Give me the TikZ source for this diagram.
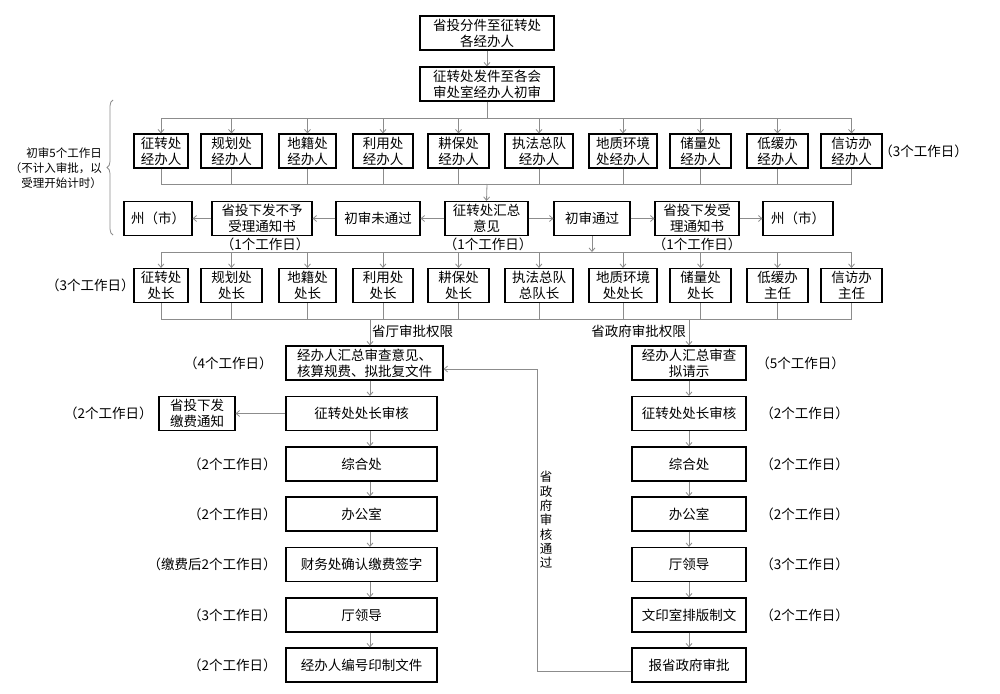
\documentclass[tikz,border=0pt]{standalone}
\usepackage{fontspec}
\setmainfont{Noto Sans CJK SC}
\newfontfamily\cjkh[RawFeature=+halt]{Noto Sans CJK SC}
\usetikzlibrary{arrows.meta,decorations.pathreplacing}
\begin{document}
\begin{tikzpicture}[x=1pt,y=-1pt,
  bx/.style={draw=black,line width=1.1pt,minimum height=34pt,inner sep=1pt,align=center,font=\fontsize{13.5}{16}\selectfont},
  lbl/.style={inner sep=0pt,font=\cjkh\fontsize{13.5}{16}\selectfont},
  ln/.style={draw=black!45,line width=0.8pt},
  arr/.style={ln,-{Straight Barb[length=3.5pt,width=6pt]}}]
\useasboundingbox[fill=white] (0,0) rectangle (1000,693);
% top
\node[bx,minimum width=134pt] (t1) at (487,33) {省投分件至征转处\\各经办人};
\node[bx,minimum width=134pt] (t2) at (487,84) {征转处发件至各会\\审处室经办人初审};
\draw[arr] (t1) -- (t2);
% row 1
\node[bx,minimum width=54pt] (a1) at (161,151) {征转处\\经办人};
\node[bx,minimum width=61pt] (a2) at (231.5,151) {规划处\\经办人};
\node[bx,minimum width=57pt] (a3) at (307.5,151) {地籍处\\经办人};
\node[bx,minimum width=60pt] (a4) at (383,151) {利用处\\经办人};
\node[bx,minimum width=61pt] (a5) at (458.5,151) {耕保处\\经办人};
\node[bx,minimum width=68pt] (a6) at (539,151) {执法总队\\经办人};
\node[bx,minimum width=68pt] (a7) at (623,151) {地质环境\\处经办人};
\node[bx,minimum width=61pt] (a8) at (700.5,151) {储量处\\经办人};
\node[bx,minimum width=61pt] (a9) at (777.5,151) {低缓办\\经办人};
\node[bx,minimum width=61pt] (a10) at (851.5,151) {信访办\\经办人};
\node[lbl,anchor=west] (l3a) at (886,151) {（3个工作日）};
\coordinate (b1) at (0,118);
\coordinate (b1b) at (0,184);
\draw[ln] (t2.south) -- (t2.south |- b1);
\draw[ln] (a1.north |- b1) -- (a10.north |- b1);
\draw[ln] (a1.south |- b1b) -- (a10.south |- b1b);
\foreach \i in {1,...,10}{
  \draw[arr] (a\i.north |- b1) -- (a\i.north);
  \draw[ln] (a\i.south) -- (a\i.south |- b1b);
}
% row 2
\node[bx,minimum width=68pt] (zL) at (158,218.5) {州（市）};
\node[bx,minimum width=100pt] (nsl) at (262,218.5) {省投下发不予\\受理通知书};
\node[bx,minimum width=84pt] (wtg) at (378,218.5) {初审未通过};
\node[bx,minimum width=83pt] (hz) at (486.5,218.5) {征转处汇总\\意见};
\node[bx,minimum width=76pt] (tg) at (592,218.5) {初审通过};
\node[bx,minimum width=84pt] (sl) at (697,218.5) {省投下发受\\理通知书};
\node[bx,minimum width=70pt] (zR) at (798,218.5) {州（市）};
\draw[arr] (t2.south |- b1b) -- (hz.north);
\draw[arr] (hz) -- (wtg);
\draw[arr] (wtg) -- (nsl);
\draw[arr] (nsl) -- (zL);
\draw[arr] (hz) -- (tg);
\draw[arr] (tg) -- (sl);
\draw[arr] (sl) -- (zR);
\node[lbl] (d1) at (265,244) {（1个工作日）};
\node[lbl] (d2) at (488,244) {（1个工作日）};
\node[lbl] (d3) at (697,244) {（1个工作日）};
% brace and note
\coordinate (brb) at (113,235);
\coordinate (brt) at (113,100);
\draw[draw=black!45,line width=0.8pt,decorate,decoration={brace,amplitude=6pt}] (brb) -- (brt);
\node[anchor=east,align=right,inner sep=0pt,font=\fontsize{11.5}{15}\selectfont] (note) at (102,168) {初审5个工作日\\（不计入审批，以\\受理开始计时）};
% row 3
\node[bx,minimum width=54pt] (c1) at (161,285.5) {征转处\\处长};
\node[bx,minimum width=61pt] (c2) at (231.5,285.5) {规划处\\处长};
\node[bx,minimum width=57pt] (c3) at (307.5,285.5) {地籍处\\处长};
\node[bx,minimum width=60pt] (c4) at (383,285.5) {利用处\\处长};
\node[bx,minimum width=61pt] (c5) at (458.5,285.5) {耕保处\\处长};
\node[bx,minimum width=68pt] (c6) at (539,285.5) {执法总队\\总队长};
\node[bx,minimum width=68pt] (c7) at (623,285.5) {地质环境\\处处长};
\node[bx,minimum width=61pt] (c8) at (700.5,285.5) {储量处\\处长};
\node[bx,minimum width=61pt] (c9) at (777.5,285.5) {低缓办\\主任};
\node[bx,minimum width=61pt] (c10) at (851.5,285.5) {信访办\\主任};
\node[lbl,anchor=east] (l3b) at (128,285.5) {（3个工作日）};
\coordinate (b2) at (0,252);
\coordinate (b3) at (0,319);
\draw[arr] (tg.south) -- (tg.south |- b2);
\draw[ln] (c1.north |- b2) -- (c10.north |- b2);
\draw[ln] (c1.south |- b3) -- (c10.south |- b3);
\foreach \i in {1,...,10}{
  \draw[arr] (c\i.north |- b2) -- (c\i.north);
  \draw[ln] (c\i.south) -- (c\i.south |- b3);
}
% columns
\coordinate (colL) at (370,0);
\coordinate (colR) at (689,0);
\node[bx,minimum width=157pt] (L1) at (364.5,363) {经办人汇总审查意见、\\核算规费、拟批复文件};
\node[bx,minimum width=151pt] (L2) at (361.5,413.5) {征转处处长审核};
\node[bx,minimum width=151pt] (L3) at (361.5,464) {综合处};
\node[bx,minimum width=151pt] (L4) at (361.5,514) {办公室};
\node[bx,minimum width=151pt] (L5) at (361.5,564.5) {财务处确认缴费签字};
\node[bx,minimum width=151pt] (L6) at (361.5,615) {厅领导};
\node[bx,minimum width=151pt] (L7) at (361.5,665) {经办人编号印制文件};
\node[bx,minimum width=76pt] (jf) at (197,413.5) {省投下发\\缴费通知};
\node[bx,minimum width=114pt] (R1) at (689,363) {经办人汇总审查\\拟请示};
\node[bx,minimum width=114pt] (R2) at (689,413.5) {征转处处长审核};
\node[bx,minimum width=114pt] (R3) at (689,464) {综合处};
\node[bx,minimum width=114pt] (R4) at (689,514) {办公室};
\node[bx,minimum width=114pt] (R5) at (689,564.5) {厅领导};
\node[bx,minimum width=114pt] (R6) at (689,615) {文印室排版制文};
\node[bx,minimum width=114pt] (R7) at (689,665) {报省政府审批};
\draw[arr] (colL |- b3) -- (colL |- L1.north);
\draw[arr] (colR |- b3) -- (R1.north);
\foreach \i/\j in {1/2,2/3,3/4,4/5,5/6,6/7}{
  \draw[arr] (colL |- L\i.south) -- (colL |- L\j.north);
  \draw[arr] (R\i.south) -- (R\j.north);
}
\draw[arr] (L2.west) -- (jf.east);
\node[inner sep=0pt,anchor=west,font=\fontsize{13.5}{16}\selectfont] (sq1) at (372,331) {省厅审批权限};
\node[inner sep=0pt,anchor=east,font=\fontsize{13.5}{16}\selectfont] (sq2) at (686,331) {省政府审批权限};
% feedback
\coordinate (fb) at (537,369);
\draw[arr] ([yshift=-6pt]R7.west) -| (fb) -- (L1.east |- fb);
\node[inner sep=0pt,align=center,font=\fontsize{12.5}{14.3}\selectfont] (vt) at (546,520) {省\\政\\府\\审\\核\\通\\过};
% left labels
\node[lbl,anchor=east] at (266,363) {（4个工作日）};
\node[lbl,anchor=east] at (146,413.5) {（2个工作日）};
\node[lbl,anchor=east] at (270,464) {（2个工作日）};
\node[lbl,anchor=east] at (270,514) {（2个工作日）};
\node[lbl,anchor=east] at (270,564.5) {（缴费后2个工作日）};
\node[lbl,anchor=east] at (270,615) {（3个工作日）};
\node[lbl,anchor=east] at (270,665) {（2个工作日）};
% right labels
\node[lbl,anchor=west] at (763,363) {（5个工作日）};
\node[lbl,anchor=west] at (767,413.5) {（2个工作日）};
\node[lbl,anchor=west] at (767,464) {（2个工作日）};
\node[lbl,anchor=west] at (767,514) {（2个工作日）};
\node[lbl,anchor=west] at (767,564.5) {（3个工作日）};
\node[lbl,anchor=west] at (767,615) {（2个工作日）};
\end{tikzpicture}
\end{document}
